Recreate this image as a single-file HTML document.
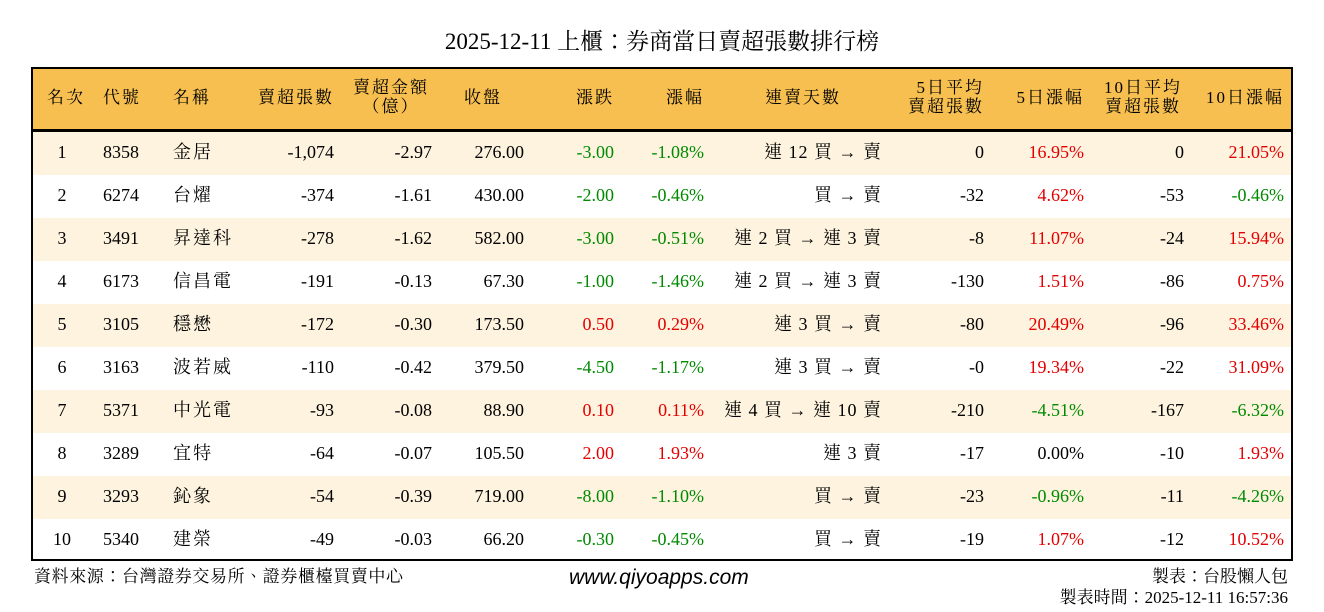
<!DOCTYPE html>
<html><head><meta charset="utf-8"><style>
body{margin:0;width:1324px;height:612px;background:#fff;position:relative;overflow:hidden;font-family:"Liberation Serif","Noto Serif CJK TC",serif;color:#000}
.t{position:absolute;white-space:nowrap;font-size:18px;line-height:20px}
.r{text-align:right}
.c{text-align:center}
.title{position:absolute;top:28px;left:0;width:1324px;text-align:center;font-size:23px;line-height:28px}
.tbl{position:absolute;left:31px;top:67px;width:1258px;height:490px;border:2px solid #000}
.hdr{position:absolute;left:0;top:0;width:100%;height:60px;background:#f6bf50;border-bottom:3px solid #000}
.row{position:absolute;left:0;width:100%;height:43px}
.odd{background:#fdf3df}
.h{font-size:17px;letter-spacing:2px;line-height:19px}
.red{color:#e30000}.grn{color:#008a00}
.foot{position:absolute;font-size:17px;line-height:20px;font-family:"Liberation Serif","Noto Serif CJK TC",serif;white-space:nowrap}
</style></head><body>
<div class="title">2025-12-11 上櫃：券商當日賣超張數排行榜</div>
<div class="tbl">
<div class="hdr"></div>
<div class="row odd" style="top:63px"></div>
<div class="row odd" style="top:149px"></div>
<div class="row odd" style="top:235px"></div>
<div class="row odd" style="top:321px"></div>
<div class="row odd" style="top:407px"></div>
</div>
<div id="c"></div>
<script>
const H=[["名次",43,89,"c",88],["代號",103,null,"l",88],["名稱",173,null,"l",88],["賣超張數",null,334,"r",88],["賣超金額<br>（億）",350,432,"c",78],["收盤",null,502,"r",88],["漲跌",null,614,"r",88],["漲幅",null,704,"r",88],["連賣天數",740,866,"c",88],["5日平均<br>賣超張數",null,984,"r",78],["5日漲幅",null,1084,"r",88],["10日平均<br>賣超張數",1100,1186,"c",78],["10日漲幅",null,1284,"r",88]];
let s="";
for(const [t,l,r,a,y] of H){
 let st=`top:${y}px;`;
 if(a=="c")st+=`left:${l}px;width:${r-l}px;text-align:center;`;
 else if(a=="l")st+=`left:${l}px;`;
 else st+=`right:${1324-r}px;text-align:right;`;
 s+=`<div class="t h" style="${st}">${t}</div>`;
}
const D=[
[1,8358,"金居","-1,074","-2.97","276.00","-3.00","-1.08%","連 12 買 → 賣","0","16.95%","0","21.05%"],
[2,6274,"台燿","-374","-1.61","430.00","-2.00","-0.46%","買 → 賣","-32","4.62%","-53","-0.46%"],
[3,3491,"昇達科","-278","-1.62","582.00","-3.00","-0.51%","連 2 買 → 連 3 賣","-8","11.07%","-24","15.94%"],
[4,6173,"信昌電","-191","-0.13","67.30","-1.00","-1.46%","連 2 買 → 連 3 賣","-130","1.51%","-86","0.75%"],
[5,3105,"穩懋","-172","-0.30","173.50","0.50","0.29%","連 3 買 → 賣","-80","20.49%","-96","33.46%"],
[6,3163,"波若威","-110","-0.42","379.50","-4.50","-1.17%","連 3 買 → 賣","-0","19.34%","-22","31.09%"],
[7,5371,"中光電","-93","-0.08","88.90","0.10","0.11%","連 4 買 → 連 10 賣","-210","-4.51%","-167","-6.32%"],
[8,3289,"宜特","-64","-0.07","105.50","2.00","1.93%","連 3 賣","-17","0.00%","-10","1.93%"],
[9,3293,"鈊象","-54","-0.39","719.00","-8.00","-1.10%","買 → 賣","-23","-0.96%","-11","-4.26%"],
[10,5340,"建榮","-49","-0.03","66.20","-0.30","-0.45%","買 → 賣","-19","1.07%","-12","10.52%"]];
const R=[334,432,524,614,704,882,984,1084,1184,1284];
const col=v=>v.startsWith("-")?"grn":(v=="0.00%"?"":"red");
D.forEach((d,i)=>{
 const y=142+43*i;
 s+=`<div class="t c" style="top:${y}px;left:42px;width:40px">${d[0]}</div>`;
 s+=`<div class="t" style="top:${y}px;left:103px">${d[1]}</div>`;
 s+=`<div class="t" style="top:${y}px;left:173px;letter-spacing:2px">${d[2]}</div>`;
 for(let k=3;k<13;k++){
  let cl="";
  if(k==6||k==7||k==10||k==12)cl=col(d[k]);
  s+=`<div class="t r ${cl}" style="top:${y}px;right:${1324-R[k-3]}px;${k==8?'letter-spacing:1px':''}">${d[k]}</div>`;
 }
});
document.getElementById("c").innerHTML=s;
</script>
<div class="foot" style="left:34px;top:567px;letter-spacing:0.6px">資料來源：台灣證券交易所、證券櫃檯買賣中心</div>
<div class="foot" style="left:569px;top:568px;font-style:italic;font-size:21px;font-family:'Liberation Sans',sans-serif">www.qiyoapps.com</div>
<div class="foot" style="right:36px;top:567px">製表：台股懶人包</div>
<div class="foot" style="right:36px;top:588px">製表時間：2025-12-11 16:57:36</div>
</body></html>
